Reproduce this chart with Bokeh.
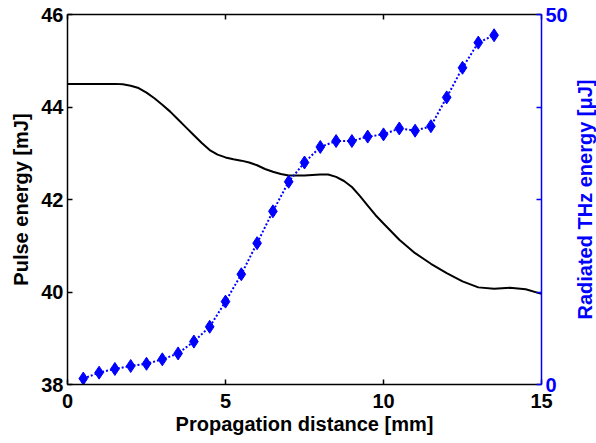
import math
from bokeh.plotting import figure
from bokeh.models import Range1d, LinearAxis, FixedTicker
from bokeh.core.properties import value
from bokeh.layouts import row
from bokeh.embed import file_html
from bokeh.resources import INLINE

# Pulse energy along propagation [mJ]
dist_pulse = [0.0, 1.0, 1.5, 1.75, 2.0, 2.25, 2.5, 2.75, 3.0, 3.25, 3.5, 3.75, 4.0, 4.25,
              4.5, 4.75, 5.0, 5.25, 5.5, 5.75, 6.0, 6.25, 6.5, 6.75, 7.0, 7.5, 8.0, 8.25,
              8.5, 8.75, 9.0, 9.25, 9.5, 9.75, 10.0, 10.5, 11.0, 11.5, 12.0, 12.5, 13.0,
              13.5, 14.0, 14.5, 15.0]
pulse_energy = [44.50, 44.50, 44.50, 44.49, 44.46, 44.41, 44.31, 44.19, 44.05, 43.90,
                43.73, 43.56, 43.39, 43.22, 43.07, 42.97, 42.91, 42.87, 42.84, 42.80,
                42.74, 42.66, 42.60, 42.55, 42.52, 42.52, 42.54, 42.54, 42.49, 42.40,
                42.27, 42.08, 41.87, 41.66, 41.48, 41.13, 40.84, 40.61, 40.41, 40.23,
                40.10, 40.07, 40.09, 40.06, 39.96]

# Radiated THz energy [uJ]
dist_thz = [0.5, 1.0, 1.5, 2.0, 2.5, 3.0, 3.5, 4.0, 4.5, 5.0, 5.5, 6.0, 6.5, 7.0,
            7.5, 8.0, 8.5, 9.0, 9.5, 10.0, 10.5, 11.0, 11.5, 12.0, 12.5, 13.0, 13.5]
thz_energy = [0.8, 1.6, 2.1, 2.5, 2.8, 3.4, 4.2, 5.8, 7.8, 11.2, 14.9, 19.1, 23.4, 27.4,
              30.0, 32.1, 32.9, 32.9, 33.5, 33.8, 34.6, 34.3, 34.9, 38.8, 42.8, 46.2, 47.2]

x_ticks = [0, 5, 10, 15]
left_ticks = [38, 40, 42, 44, 46]
right_labeled_ticks = [0, 50]
right_minor_ticks = [12.5, 25, 37.5]
right_label = "Radiated THz energy [\u03bcJ]"

FONT = "Liberation Sans"
BLUE = "#0000FF"

p = figure(width=572, height=443, output_backend="svg", toolbar_location=None,
           x_range=Range1d(0, 15), y_range=Range1d(38, 46),
           min_border_left=67, min_border_right=31, min_border_top=14, min_border_bottom=59,
           x_axis_label="Propagation distance [mm]", y_axis_label="Pulse energy [mJ]")
p.extra_y_ranges = {"thz": Range1d(0, 50)}
p.grid.visible = False
p.outline_line_color = None
p.background_fill_color = "white"
p.border_fill_color = "white"


def style(ax, color="black"):
    ax.axis_line_color = color
    ax.axis_line_width = 1.5
    ax.major_tick_line_color = color
    ax.major_tick_line_width = 1.5
    ax.major_tick_in = 5
    ax.major_tick_out = 0
    ax.minor_tick_line_color = color
    ax.minor_tick_line_width = 1.5
    ax.minor_tick_in = 5
    ax.minor_tick_out = 0
    ax.major_label_text_font = FONT
    ax.major_label_text_font_style = "bold"
    ax.major_label_text_font_size = "20px"
    ax.major_label_text_color = color
    ax.axis_label_text_font = FONT
    ax.axis_label_text_font_style = "bold"
    ax.axis_label_text_font_size = "20px"
    ax.axis_label_text_color = color


xa = p.xaxis[0]
style(xa)
xa.ticker = FixedTicker(ticks=x_ticks, minor_ticks=[])
xa.major_label_standoff = 9
xa.axis_label_standoff = 2

ya = p.yaxis[0]
style(ya)
ya.ticker = FixedTicker(ticks=left_ticks, minor_ticks=[])
ya.major_label_standoff = 4
ya.axis_label_standoff = 6

ra = LinearAxis(y_range_name="thz")
style(ra, BLUE)
ra.ticker = FixedTicker(ticks=right_labeled_ticks, minor_ticks=right_minor_ticks)
ra.major_label_standoff = 4
p.add_layout(ra, "right")

ta = LinearAxis()
style(ta)
ta.ticker = FixedTicker(ticks=[], minor_ticks=x_ticks)
ta.axis_label = None
p.add_layout(ta, "above")

p.line(dist_pulse, pulse_energy, line_color="black", line_width=2)
p.line(dist_thz, thz_energy, y_range_name="thz", line_color=BLUE, line_width=2,
       line_dash="2 2")
p.scatter(dist_thz, thz_energy, y_range_name="thz", marker="diamond", size=13,
          fill_color=BLUE, line_color=BLUE)

# Narrow strip holding the right-axis title, reading bottom-to-top
q = figure(width=24, height=443, output_backend="svg", toolbar_location=None,
           x_range=Range1d(0, 1), y_range=Range1d(0, 50),
           min_border_left=0, min_border_right=0, min_border_top=14, min_border_bottom=59)
q.axis.visible = False
q.grid.visible = False
q.outline_line_color = None
q.border_fill_color = "white"
q.background_fill_color = "white"
q.text(x=[0.5], y=[25], text=[right_label], angle=math.pi / 2,
       text_align="center", text_baseline="middle",
       text_font=value(FONT), text_font_style=value("bold"),
       text_font_size=value("20px"), text_color=BLUE)

layout = row(p, q, spacing=0)
open("out.html", "w").write(file_html(layout, INLINE))
